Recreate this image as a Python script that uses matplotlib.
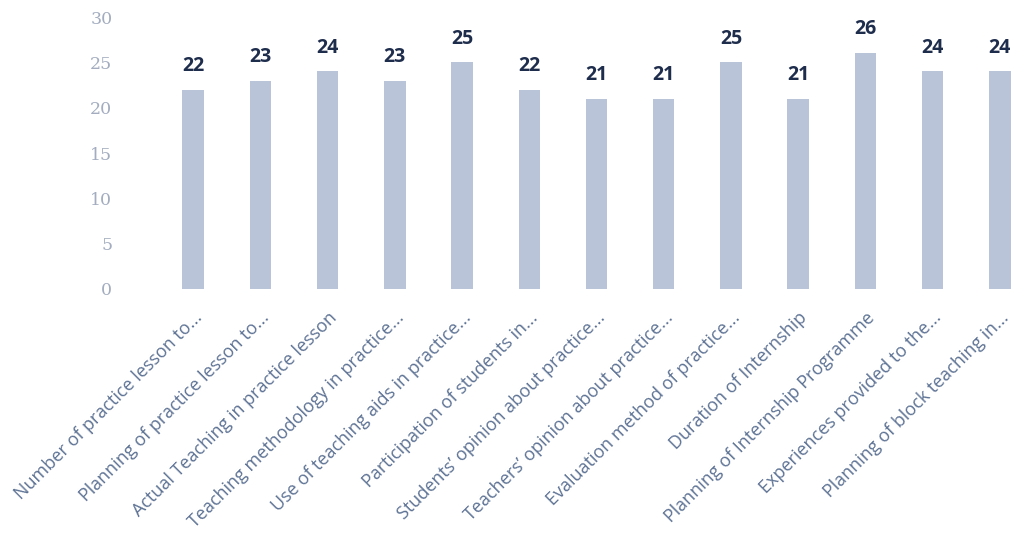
import numpy as np
import matplotlib.pyplot as plt

categories = [
    "Number of practice lesson to...",
    "Planning of practice lesson to...",
    "Actual Teaching in practice lesson",
    "Teaching methodology in practice...",
    "Use of teaching aids in practice...",
    "Participation of students in...",
    "Students\u2019 opinion about practice...",
    "Teachers\u2019 opinion about practice...",
    "Evaluation method of practice...",
    "Duration of Internship",
    "Planning of Internship Programme",
    "Experiences provided to the...",
    "Planning of block teaching in...",
]
values = [22, 23, 24, 23, 25, 22, 21, 21, 25, 21, 26, 24, 24]
yticks = [0, 5, 10, 15, 20, 25, 30]

fig = plt.figure(figsize=(10.16, 5.51), dpi=100)
ax = fig.add_axes([0.157, 0.4755, 0.843, 0.4935])

x = np.arange(len(categories))
ax.bar(x, values, width=0.32, color="#bac4d8")

for xi, v in zip(x, values):
    ax.annotate(str(v), (xi, v), xytext=(0, 10), textcoords="offset points",
                ha="center", va="bottom", fontsize=14, fontweight="bold",
                color="#1f2d4d", family="Open Sans")

ax.set_xlim(-0.5, 12.24)
ax.set_ylim(0, 30)
ax.set_yticks(yticks)
ax.set_yticklabels([str(t) for t in yticks], fontsize=12.5, color="#a3adbf",
                   family="DejaVu Serif")
ax.set_xticks(x)
ax.set_xticklabels(categories, rotation=45, ha="right", rotation_mode="anchor",
                   fontsize=13, color="#5d7294", family="Open Sans")
ax.tick_params(length=0, pad=14)
ax.tick_params(axis="y", pad=34)
for s in ax.spines.values():
    s.set_visible(False)

fig.savefig("out.png", dpi=100)
